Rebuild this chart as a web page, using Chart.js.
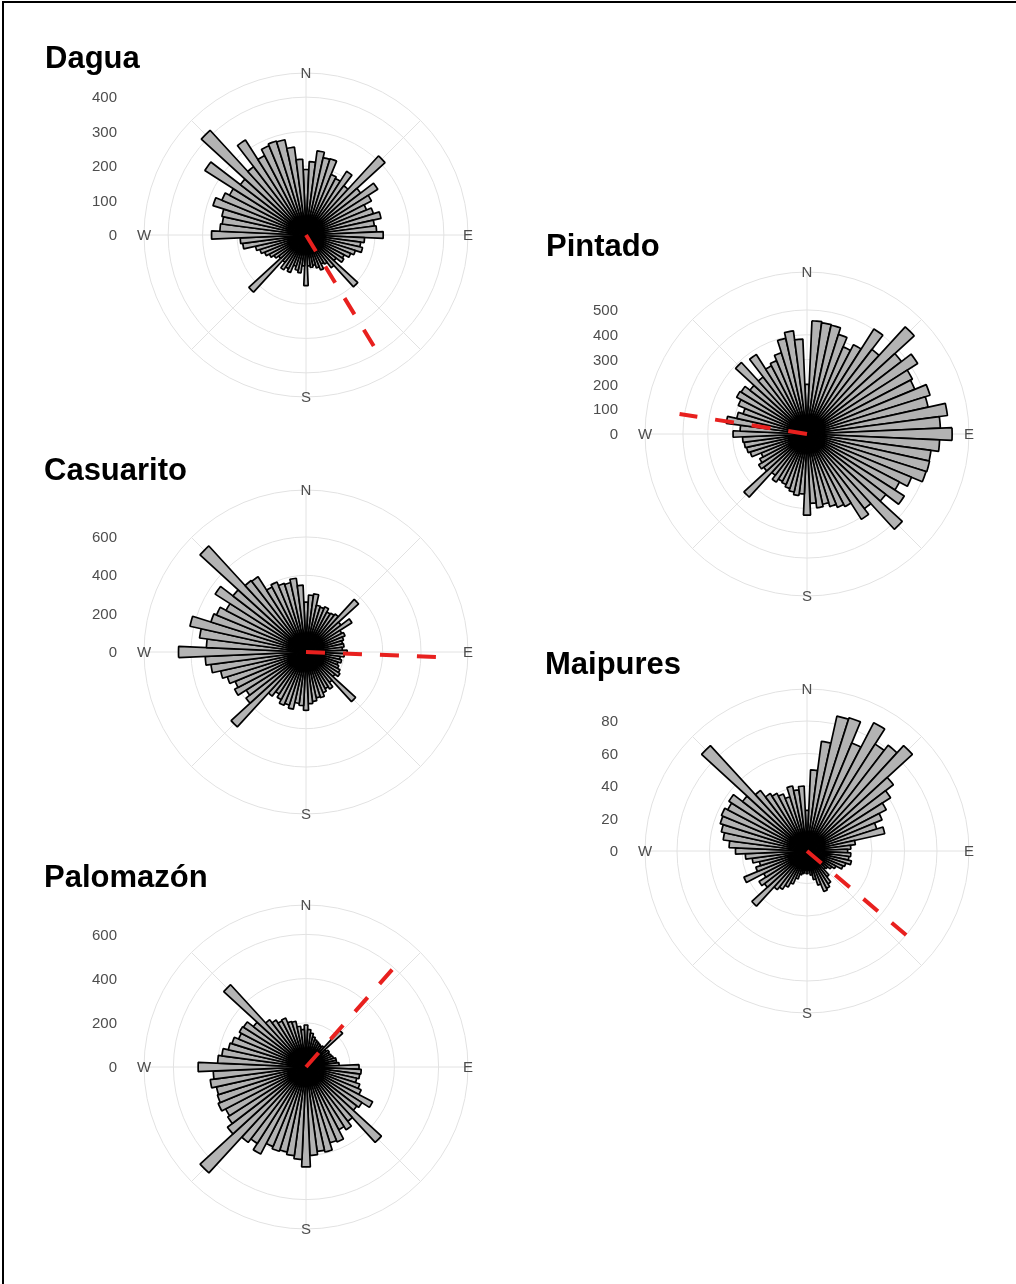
<!DOCTYPE html>
<html>
<head>
<meta charset="utf-8">
<script src="https://cdn.jsdelivr.net/npm/chart.js@4.4.0/dist/chart.umd.min.js"></script>
<style>
  body { margin: 0; background: #fff; }
  #page { position: relative; width: 1016px; height: 1284px; overflow: hidden; background: #fff;
          font-family: "Liberation Sans", Arial, sans-serif; }
  .frame { position: absolute; left: 2px; top: 1px; width: 1100px; height: 1400px;
           border-top: 2px solid #000; border-left: 2px solid #000; }
  .rose { position: absolute; }
  .title { position: absolute; font-weight: bold; font-size: 31px; line-height: 31px; color: #000; white-space: nowrap; }
</style>
</head>
<body>
<div id="page">
  <div class="frame"></div>
  <canvas class="rose" id="rose0" width="420" height="350" style="left:64px;top:60px"></canvas>
  <canvas class="rose" id="rose1" width="420" height="350" style="left:565px;top:259px"></canvas>
  <canvas class="rose" id="rose2" width="420" height="350" style="left:64px;top:477px"></canvas>
  <canvas class="rose" id="rose3" width="420" height="350" style="left:565px;top:676px"></canvas>
  <canvas class="rose" id="rose4" width="420" height="350" style="left:64px;top:892px"></canvas>
  <div class="title" style="left:45px;top:42px">Dagua</div>
  <div class="title" style="left:546px;top:230px">Pintado</div>
  <div class="title" style="left:44px;top:454px">Casuarito</div>
  <div class="title" style="left:545px;top:648px">Maipures</div>
  <div class="title" style="left:44px;top:861px">Palomazón</div>
</div>
<script>
// Bin centres (degrees clockwise from north), 5 degree bins
const binCenters = [0, 5, 10, 15, 20, 25, 30, 35, 40, 45, 50, 55, 60, 65, 70, 75, 80, 85,
  90, 95, 100, 105, 110, 115, 120, 125, 130, 135, 140, 145, 150, 155, 160, 165, 170, 175,
  180, 185, 190, 195, 200, 205, 210, 215, 220, 225, 230, 235, 240, 245, 250, 255, 260, 265,
  270, 275, 280, 285, 290, 295, 300, 305, 310, 315, 320, 325, 330, 335, 340, 345, 350, 355];

const daguaCounts = [190, 213, 246, 230, 232, 190, 185, 219, 180, 311,
  200, 247, 214, 190, 205, 223, 200, 205, 224, 170,
  160, 168, 150, 140, 125, 130, 110, 204, 120, 100,
  95, 110, 100, 90, 95, 90, 147, 90, 111, 105,
  95, 118, 110, 120, 100, 225, 100, 110, 120, 130,
  140, 150, 185, 191, 274, 250, 245, 250, 283, 264,
  250, 348, 240, 412, 250, 327, 260, 280, 286, 283,
  257, 220];

const pintadoCounts = [200, 457, 452, 449, 421, 380, 406, 502, 430, 586,
  480, 529, 479, 470, 520, 500, 571, 538, 585, 535,
  504, 506, 503, 456, 420, 465, 400, 521, 380, 408,
  330, 320, 307, 290, 300, 280, 327, 242, 250, 240,
  230, 220, 215, 230, 210, 345, 220, 231, 215, 200,
  240, 249, 255, 260, 298, 270, 328, 290, 270, 300,
  320, 315, 290, 391, 290, 380, 310, 320, 343, 395,
  419, 383];

const casuaritoCounts = [260, 297, 306, 250, 245, 255, 235, 240, 250, 372,
  230, 284, 210, 220, 205, 195, 200, 190, 215, 200,
  180, 190, 175, 185, 200, 210, 190, 351, 200, 229,
  215, 230, 250, 245, 260, 270, 304, 280, 270, 306,
  290, 301, 280, 260, 290, 530, 395, 370, 420, 400,
  430, 456, 500, 526, 665, 520, 560, 620, 520, 505,
  470, 562, 480, 750, 470, 465, 382, 395, 375, 370,
  388, 349];

const maipuresCounts = [25, 50, 68, 85, 86, 72, 89, 78, 82, 88,
  67, 61, 55, 50, 45, 49, 30, 27, 25, 27,
  26, 28, 25, 24, 20, 18, 16, 15, 20, 24,
  26, 27, 22, 18, 15, 12, 14, 12, 14, 15,
  18, 22, 25, 28, 30, 46, 33, 35, 30, 42,
  33, 30, 34, 38, 44, 48, 52, 54, 56, 57,
  55, 57, 50, 88, 47, 42, 40, 38, 35, 41,
  38, 40];

const palomazonCounts = [190, 170, 155, 140, 130, 125, 120, 115, 120, 225,
  115, 125, 120, 125, 130, 140, 140, 150, 240, 250,
  245, 235, 255, 270, 340, 300, 290, 463, 310, 337,
  320, 367, 360, 394, 385, 400, 452, 418, 405, 394,
  400, 390, 444, 410, 430, 650, 448, 420, 410, 430,
  420, 415, 437, 420, 488, 400, 384, 360, 351, 330,
  340, 335, 300, 505, 270, 252, 235, 240, 216, 212,
  186, 170];

// Radial tick labels
const daguaTicks = [0, 100, 200, 300, 400];
const pintadoTicks = [0, 100, 200, 300, 400, 500];
const casuaritoTicks = [0, 200, 400, 600];
const maipuresTicks = [0, 20, 40, 60, 80];
const palomazonTicks = [0, 200, 400, 600];

// Mean direction (degrees) and length of the mean vector, in count units
const meanDirection = [148.6, 278.9, 92.2, 130.3, 41.5];
const meanLength = [382, 520, 683, 81, 593];

// Value at the outer ring of each panel
const radiusMax = [470, 653, 845, 99.7, 733];

const stations = ['Dagua', 'Pintado', 'Casuarito', 'Maipures', 'Palomazón'];
const counts = [daguaCounts, pintadoCounts, casuaritoCounts, maipuresCounts, palomazonCounts];
const ticks = [daguaTicks, pintadoTicks, casuaritoTicks, maipuresTicks, palomazonTicks];

const compassLabels = ['N', 'E', 'S', 'W'];
const compassAngles = [0, 90, 180, 270];
const spokeAngles = [0, 45, 90, 135, 180, 225, 270, 315];

const gridColor = '#e2e2e2';
const textColor = '#4d4d4d';
const rad = d => d * Math.PI / 180;

function rosePlugin(i) {
  return {
    id: 'roseExtras' + i,
    beforeDatasetsDraw(chart) {
      // spokes every 45 degrees
      const s = chart.scales.r;
      const ctx = chart.ctx;
      const R = s.getDistanceFromCenterForValue(s.max);
      ctx.save();
      ctx.strokeStyle = gridColor;
      ctx.lineWidth = 1;
      spokeAngles.forEach(a => {
        ctx.beginPath();
        ctx.moveTo(s.xCenter, s.yCenter);
        ctx.lineTo(s.xCenter + R * Math.sin(rad(a)), s.yCenter - R * Math.cos(rad(a)));
        ctx.stroke();
      });
      ctx.restore();
    },
    afterDatasetsDraw(chart) {
      const s = chart.scales.r;
      const ctx = chart.ctx;
      const R = s.getDistanceFromCenterForValue(s.max);

      // mean direction
      const d = s.getDistanceFromCenterForValue(meanLength[i]);
      const th = rad(meanDirection[i]);
      ctx.save();
      ctx.strokeStyle = '#e8201e';
      ctx.lineWidth = 4;
      ctx.lineCap = 'butt';
      ctx.setLineDash([19, 18]);
      ctx.beginPath();
      ctx.moveTo(s.xCenter, s.yCenter);
      ctx.lineTo(s.xCenter + d * Math.sin(th), s.yCenter - d * Math.cos(th));
      ctx.stroke();
      ctx.restore();

      // compass letters and radial tick labels
      ctx.save();
      ctx.fillStyle = textColor;
      ctx.font = '15px "Liberation Sans", Arial, sans-serif';
      ctx.textAlign = 'center';
      ctx.textBaseline = 'middle';
      compassLabels.forEach((lab, k) => {
        const a = rad(compassAngles[k]);
        ctx.fillText(lab, s.xCenter + R * Math.sin(a), s.yCenter - R * Math.cos(a) + 1);
      });
      ctx.textAlign = 'right';
      ticks[i].forEach(v => {
        ctx.fillText(String(v), s.xCenter - 189, s.yCenter - s.getDistanceFromCenterForValue(v) + 1);
      });
      ctx.restore();
    }
  };
}

stations.forEach((name, i) => {
  const canvas = document.getElementById('rose' + i);
  new Chart(canvas, {
    type: 'polarArea',
    data: {
      labels: binCenters,
      datasets: [{
        label: name,
        data: counts[i],
        backgroundColor: '#b3b3b3',
        borderColor: '#000000',
        borderWidth: 1.7
      }]
    },
    options: {
      responsive: false,
      animation: false,
      events: [],
      layout: { padding: { left: 80, right: 16, top: 13, bottom: 13 } },
      plugins: {
        legend: { display: false },
        tooltip: { enabled: false }
      },
      scales: {
        r: {
          min: 0,
          max: radiusMax[i],
          startAngle: -2.5,
          ticks: { display: false },
          afterBuildTicks: axis => {
            axis.ticks = ticks[i].concat([radiusMax[i]]).map(v => ({ value: v }));
          },
          grid: { circular: true, color: gridColor, lineWidth: 1 },
          angleLines: { display: false },
          pointLabels: { display: false }
        }
      }
    },
    plugins: [rosePlugin(i)]
  });
});
</script>
</body>
</html>
